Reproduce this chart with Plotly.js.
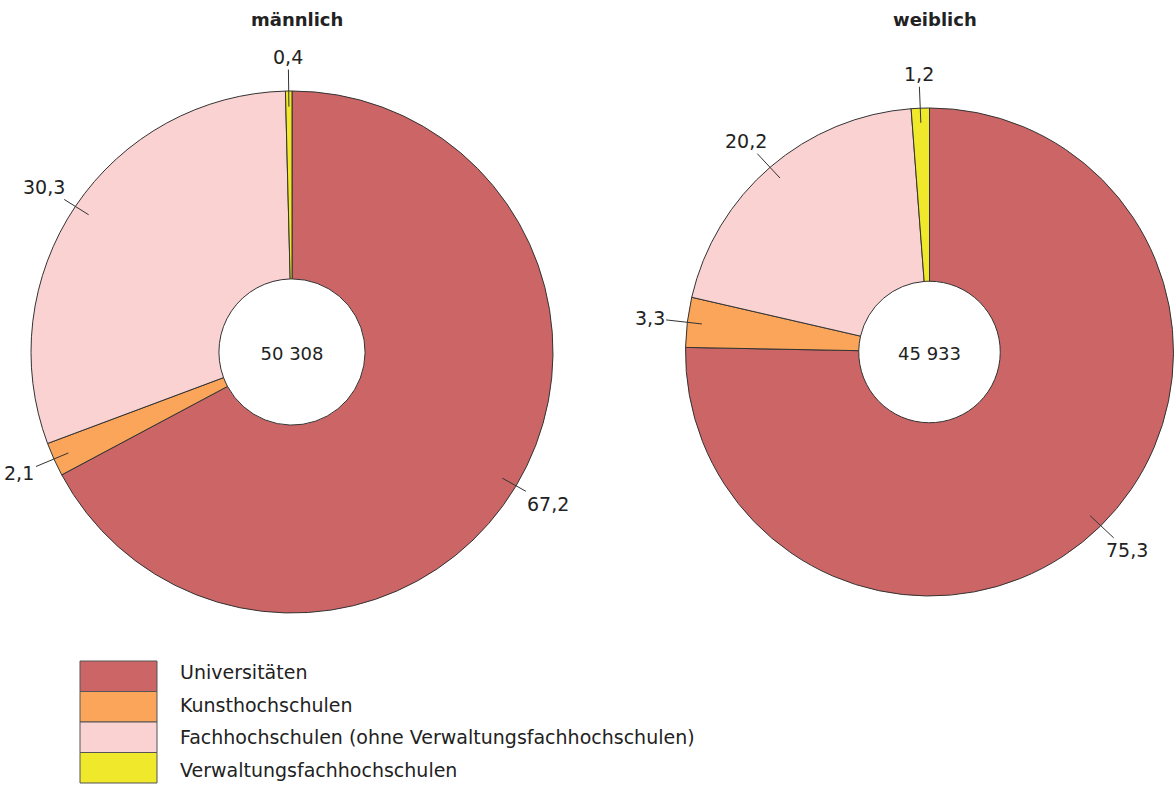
<!DOCTYPE html>
<html>
<head>
<meta charset="utf-8">
<script src="https://cdn.plot.ly/plotly-3.0.1.min.js"></script>
<style>html,body{margin:0;padding:0;background:#fff}#chart{width:1175px;height:785px}</style>
</head>
<body>
<div id="chart"></div>
<script>
// ---- data ----
const categories = ['Universitäten', 'Kunsthochschulen', 'Fachhochschulen (ohne Verwaltungsfachhochschulen)', 'Verwaltungsfachhochschulen'];
const colors = ['#CC6666', '#FAA55A', '#FAD2D2', '#F0E82A'];
const maleShares = [67.2, 2.1, 30.3, 0.4];
const femaleShares = [75.3, 3.3, 20.2, 1.2];
const groupTitles = ['männlich', 'weiblich'];
const groupTotals = ['50 308', '45 933'];

// ---- layout geometry (pixels) ----
const W = 1175, H = 785;
const FONT = 'DejaVu Sans, Arial, sans-serif';
const pies = [
  {cx: 292, cy: 352, r: 261, hole: 0.28, values: maleShares},
  {cx: 929.5, cy: 352, r: 244, hole: 0.29, values: femaleShares}
];

const fmt = v => v.toFixed(1).replace('.', ',');

const data = pies.map((p, i) => ({
  type: 'pie',
  labels: categories,
  values: p.values,
  sort: false,
  direction: 'clockwise',
  rotation: 0,
  hole: p.hole,
  textinfo: 'none',
  hoverinfo: 'label+value',
  marker: {colors: colors, line: {color: '#333333', width: 1}},
  domain: {
    x: [(p.cx - p.r) / W, (p.cx + p.r) / W],
    y: [1 - (p.cy + p.r) / H, 1 - (p.cy - p.r) / H]
  },
  title: {text: groupTotals[i], position: 'middle center', font: {family: FONT, size: 18, color: '#222'}},
  showlegend: false
}));

const annotations = [];
const shapes = [];

// group titles
pies.forEach((p, i) => {
  annotations.push({
    text: '<b>' + groupTitles[i] + '</b>', xref: 'paper', yref: 'paper',
    x: (p.cx + 5) / W, y: 1 - 20 / H, yanchor: 'middle', xanchor: 'center', showarrow: false,
    font: {family: FONT, size: 18, color: '#222'}
  });
});

// slice labels with leader lines
pies.forEach(p => {
  const total = p.values.reduce((a, b) => a + b, 0);
  let cum = 0;
  p.values.forEach(v => {
    const f = (cum + v / 2) / total;
    cum += v;
    const th = 2 * Math.PI * f;
    const dx = Math.sin(th), dy = -Math.cos(th);
    const px = p.cx + dx * p.r * 0.94, py = p.cy + dy * p.r * 0.94;
    const tx = p.cx + dx * (p.r + 26) + dx * 12;
    const ty = p.cy + dy * (p.r + 26) + dy * 8;
    annotations.push({
      text: fmt(v), xref: 'paper', yref: 'paper',
      x: px / W, y: 1 - py / H,
      ax: tx - px, ay: ty - py,
      showarrow: true, arrowhead: 0, arrowwidth: 1, arrowcolor: '#333333', standoff: 0,
      font: {family: FONT, size: 19, color: '#222'}
    });
  });
});

// legend
const legX0 = 80, legX1 = 157, legTop = 661, legStep = 30.5;
categories.forEach((c, i) => {
  const y0 = legTop + i * legStep, y1 = y0 + legStep;
  shapes.push({
    type: 'rect', xref: 'paper', yref: 'paper',
    x0: legX0 / W, x1: legX1 / W, y0: 1 - y1 / H, y1: 1 - y0 / H,
    fillcolor: colors[i], line: {color: '#555555', width: 1}
  });
  annotations.push({
    text: c, xref: 'paper', yref: 'paper',
    x: 178 / W, y: 1 - (672 + i * 32.7) / H, xanchor: 'left', yanchor: 'middle',
    showarrow: false, font: {family: FONT, size: 19, color: '#222'}
  });
});

const layout = {
  width: W, height: H,
  margin: {l: 0, r: 0, t: 0, b: 0},
  paper_bgcolor: '#ffffff',
  plot_bgcolor: '#ffffff',
  showlegend: false,
  annotations: annotations,
  shapes: shapes
};

Plotly.newPlot('chart', data, layout, {displayModeBar: false, staticPlot: true});
</script>
</body>
</html>
